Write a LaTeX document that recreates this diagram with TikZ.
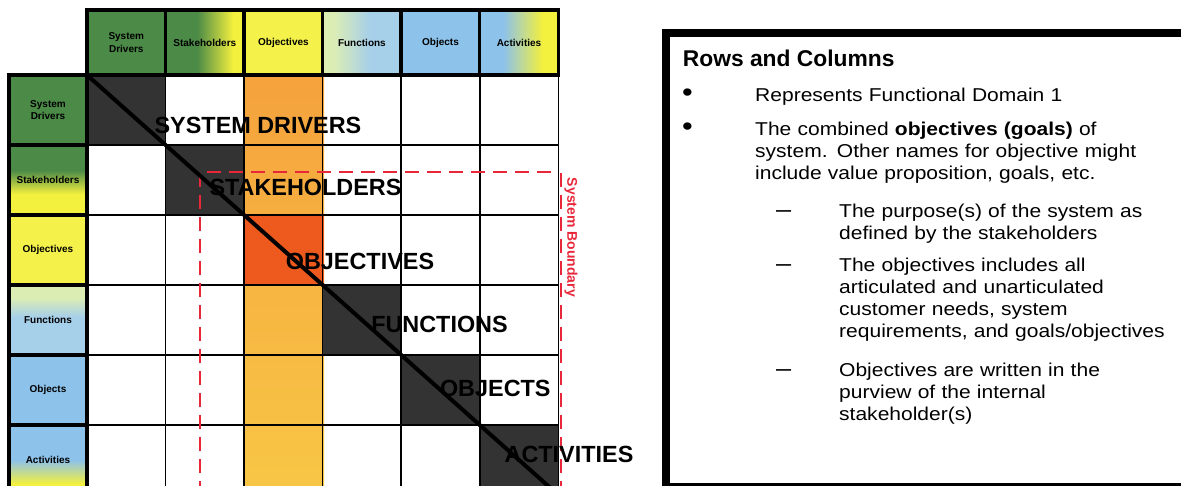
\documentclass[tikz,border=0pt]{standalone}
\usepackage{fontspec}
\setmainfont{Liberation Sans}
\newfontfamily\boxfont[FakeStretch=1.13]{Liberation Sans}
\usetikzlibrary{calc}

\definecolor{sdGreen}{HTML}{4B8A47}
\definecolor{shYellow}{HTML}{F3F03E}
\definecolor{objYellow}{HTML}{F4F24A}
\definecolor{fnPale}{HTML}{DCEDB4}
\definecolor{lightBlue}{HTML}{A6CFEA}
\definecolor{objBlue}{HTML}{8DC2EA}
\definecolor{colOrangeTop}{HTML}{F5A23D}
\definecolor{colOrangeBot}{HTML}{F8C746}
\definecolor{objRed}{HTML}{EE5A1E}
\definecolor{cellDark}{HTML}{333333}
\definecolor{bndRed}{HTML}{E8283A}

% header shadings (25bp..75bp covers the cell)
\pgfdeclarehorizontalshading{gyH}{100bp}{color(0bp)=(sdGreen); color(45bp)=(sdGreen); color(68bp)=(shYellow); color(100bp)=(shYellow)}
\pgfdeclarehorizontalshading{pbH}{100bp}{color(0bp)=(fnPale); color(32bp)=(fnPale); color(55bp)=(lightBlue); color(100bp)=(lightBlue)}
\pgfdeclarehorizontalshading{byH}{100bp}{color(0bp)=(objBlue); color(40bp)=(objBlue); color(65bp)=(shYellow); color(100bp)=(shYellow)}
\pgfdeclareverticalshading{gyV}{100bp}{color(0bp)=(shYellow); color(40bp)=(shYellow); color(57bp)=(sdGreen); color(100bp)=(sdGreen)}
\pgfdeclareverticalshading{pbV}{100bp}{color(0bp)=(lightBlue); color(52bp)=(lightBlue); color(66bp)=(fnPale); color(100bp)=(fnPale)}
\pgfdeclareverticalshading{byV}{100bp}{color(0bp)=(shYellow); color(33bp)=(shYellow); color(50bp)=(objBlue); color(100bp)=(objBlue)}

\newcommand{\hdrfont}{\bfseries\fontsize{10}{12.8}\selectfont}
\newcommand{\diagfont}{\bfseries\fontsize{23.4}{26}\selectfont}
\newcommand{\titlefont}{\bfseries\fontsize{22.8}{26}\selectfont}
\newcommand{\itemfont}{\boxfont\fontsize{18.6}{21.8}\selectfont}

\tikzset{
  hdrtop/.style={draw=black, line width=3.5pt, minimum width=78.55pt,
                 minimum height=65pt, inner sep=0pt, align=center, font=\hdrfont},
  hdrleft/.style={hdrtop, minimum width=78pt, minimum height=70pt},
  gridline/.style={line width=1.6pt},
  bndline/.style={draw=bndRed, line width=2.8pt, dash pattern=on 14pt off 8pt},
  diaglbl/.style={anchor=base, inner sep=0pt, font=\diagfont},
  boxitem/.style={anchor=base west, inner sep=0pt, align=left, font=\itemfont},
  boxbul/.style={anchor=base west, inner sep=0pt, font=\boxfont\fontsize{27}{30}\selectfont},
  boxdash/.style={anchor=base west, inner sep=0pt, font=\boxfont\fontsize{24}{26}\selectfont},
}

\begin{document}
\begin{tikzpicture}[x=1pt, y=-1pt]
  \useasboundingbox (0,0) rectangle (1181,486);
  \clip (0,0) rectangle (1181,486);
  \coordinate (gridNW) at (87,75);
  \coordinate (gridSE) at (558.3,495);

  % objectives column and diagonal cells
  \shade[top color=colOrangeTop, bottom color=colOrangeBot] (245,75) rectangle (324.1,495);
  \foreach \i in {1,2,4,5,6}
    \fill[cellDark] ({87+78.55*(\i-1)},{75+70*(\i-1)}) rectangle ({87+78.55*\i},{75+70*\i});
  \fill[objRed] (245.1,215) rectangle (324.2,285);

  % grid
  \foreach \i in {1,...,6}
    \draw[gridline] ({87+78.55*\i},75) -- ({87+78.55*\i},495);
  \foreach \j in {1,...,6}
    \draw[gridline] (87,{75+70*\j}) -- (558.3,{75+70*\j});

  % system boundary
  \coordinate (bndSW) at (200,495);
  \coordinate (bndNW) at (200,172);
  \coordinate (bndNE) at (557,172);
  \coordinate (bndTop) at (561,173);
  \coordinate (bndSE) at (561,495);
  \draw[bndline] (bndSW) -- (bndNW) -- (bndNE);
  \draw[bndline] (bndTop) -- (bndSE);
  \node[rotate=-90, text=bndRed, font=\bfseries\fontsize{14}{16}\selectfont,
        inner sep=0pt] (bndLbl) at (571,237.5) {System Boundary};

  \draw[line width=4pt] (gridNW) -- (gridSE);

  % column headers
  \node[hdrtop, fill=sdGreen] (tSD) at (126.3,42.5) {System\\Drivers};
  \node[hdrtop, shade, shading=gyH] (tSH) at (204.8,42.5) {Stakeholders};
  \node[hdrtop, fill=objYellow] (tOB) at (283.4,42.5) {Objectives};
  \node[hdrtop, shade, shading=pbH] (tFN) at (361.9,42.5) {Functions};
  \node[hdrtop, fill=objBlue] (tOJ) at (440.5,42.5) {Objects};
  \node[hdrtop, shade, shading=byH] (tAC) at (519.0,42.5) {Activities};

  % row headers
  \node[hdrleft, fill=sdGreen] (lSD) at (48,110) {System\\Drivers};
  \node[hdrleft, shade, shading=gyV] (lSH) at (48,180) {Stakeholders};
  \node[hdrleft, fill=objYellow] (lOB) at (48,250) {Objectives};
  \node[hdrleft, shade, shading=pbV] (lFN) at (48,320) {Functions};
  \node[hdrleft, fill=objBlue] (lOJ) at (48,390) {Objects};
  \node[hdrleft, shade, shading=byV] (lAC) at (48,460) {Activities};

  % diagonal labels
  \node[diaglbl] (dSD) at (258,133.5) {SYSTEM DRIVERS};
  \node[diaglbl] (dSH) at (305.5,196) {STAKEHOLDERS};
  \node[diaglbl] (dOB) at (360,269.3) {OBJECTIVES};
  \node[diaglbl] (dFN) at (439.5,332.7) {FUNCTIONS};
  \node[diaglbl] (dOJ) at (495.3,396) {OBJECTS};
  \node[diaglbl] (dAC) at (569,462.7) {ACTIVITIES};

  % text box
  \draw[line width=8pt] (666,33.5) rectangle (1200,487);
  \node[anchor=base west, inner sep=0pt, font=\titlefont] (boxTitle) at (682.7,66.7) {Rows and Columns};
  \node[boxbul] (bul1) at (682,101.7) {\textbullet};
  \node[boxitem, text width=430pt] (item1) at (755,101.7) {Represents Functional Domain 1};
  \node[boxbul] (bul2) at (682,136) {\textbullet};
  \node[boxitem, text width=430pt] (item2) at (755,136)
    {The combined \textbf{objectives (goals)} of\\
     system.  Other names for objective might\\
     include value proposition, goals, etc.};
  \node[boxdash] (dash1) at (776,218) {–};
  \node[boxitem, text width=400pt] (sub1) at (839,218)
    {The purpose(s) of the system as\\defined by the stakeholders};
  \node[boxdash] (dash2) at (776,272) {–};
  \node[boxitem, text width=400pt] (sub2) at (839,272)
    {The objectives includes all\\articulated and unarticulated\\
     customer needs, system\\requirements, and goals/objectives};
  \node[boxdash] (dash3) at (776,377) {–};
  \node[boxitem, text width=400pt] (sub3) at (839,377)
    {Objectives are written in the\\purview of the internal\\stakeholder(s)};
\end{tikzpicture}
\end{document}
